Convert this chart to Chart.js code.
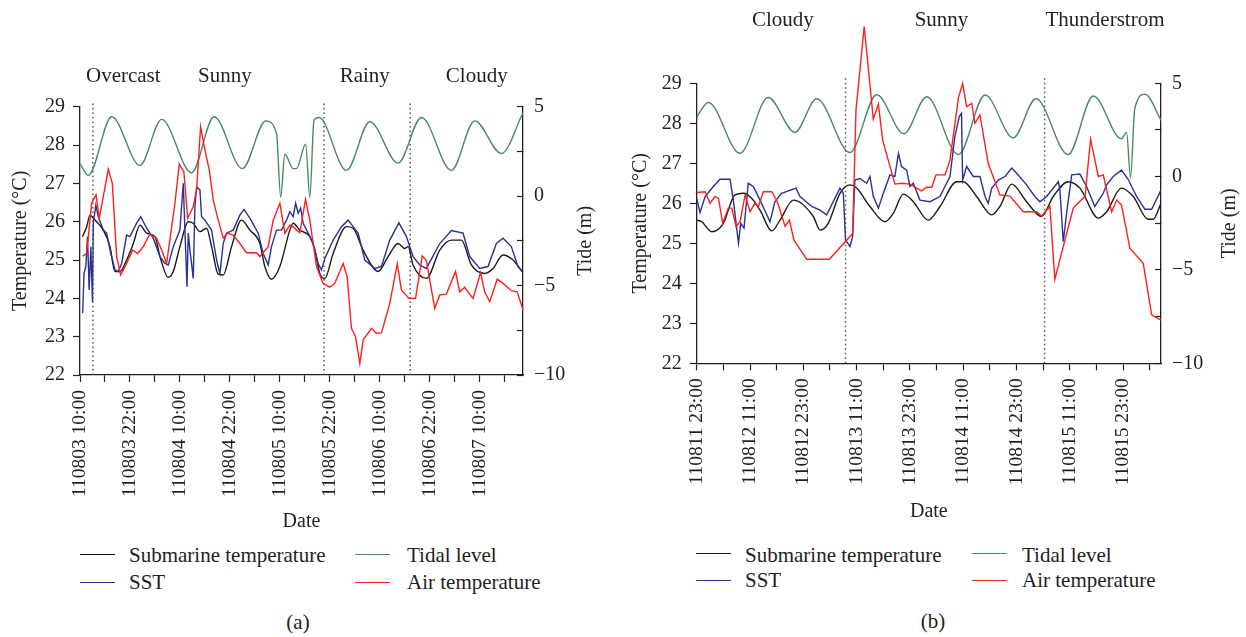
<!DOCTYPE html>
<html><head><meta charset="utf-8">
<script src="https://cdn.jsdelivr.net/npm/chart.js@4.4.1/dist/chart.umd.min.js"></script>
<style>
html,body{margin:0;padding:0;background:#fff;}
body{width:1246px;height:637px;position:relative;overflow:hidden;font-family:"Liberation Serif","Times New Roman",serif;color:#231f20;}
canvas{position:absolute;top:0;}
#cA{left:0;} #cB{left:623px;}
.sw{position:absolute;height:0;border-top:1.5px solid;}
.lt{position:absolute;font-size:21px;line-height:24px;white-space:nowrap;}
.cap{position:absolute;font-size:21px;line-height:24px;width:60px;text-align:center;}
</style></head>
<body>
<canvas id="cA" width="623" height="540"></canvas>
<canvas id="cB" width="623" height="530"></canvas>

<div class="sw" style="left:80px;width:35px;top:554px;border-color:#1a1a1a"></div>
<div class="lt" style="left:129px;top:543px">Submarine temperature</div>
<div class="sw" style="left:355px;width:35px;top:554px;border-color:#4a8a66"></div>
<div class="lt" style="left:407px;top:543px">Tidal level</div>
<div class="sw" style="left:80px;width:35px;top:582px;border-color:#2b3192"></div>
<div class="lt" style="left:129px;top:570px">SST</div>
<div class="sw" style="left:355px;width:35px;top:582px;border-color:#ff1f1f"></div>
<div class="lt" style="left:407px;top:570px">Air temperature</div>
<div class="cap" style="left:268px;top:610px">(a)</div>

<div class="sw" style="left:696px;width:35px;top:553px;border-color:#1a1a1a"></div>
<div class="lt" style="left:745px;top:543px">Submarine temperature</div>
<div class="sw" style="left:972px;width:35px;top:553px;border-color:#4a8a66"></div>
<div class="lt" style="left:1022px;top:543px">Tidal level</div>
<div class="sw" style="left:696px;width:35px;top:580px;border-color:#2b3192"></div>
<div class="lt" style="left:745px;top:568px">SST</div>
<div class="sw" style="left:972px;width:35px;top:580px;border-color:#ff1f1f"></div>
<div class="lt" style="left:1022px;top:568px">Air temperature</div>
<div class="cap" style="left:903px;top:609px">(b)</div>

<script>
// ---------- Panel (a): hours since 110803 10:00 ----------
const ticksA = ["110803 10:00","110803 22:00","110804 10:00","110804 22:00","110805 10:00","110805 22:00","110806 10:00","110806 22:00","110807 10:00"];
const weatherA = ["Overcast","Sunny","Rainy","Cloudy"];
const weatherA_h = [10.4,34.8,68.4,95.3];
const breaksA = [3.1,58.6,79.3];

const subA_h = [0.6,1.6,2.4,3.2,5.6,7.2,8.4,9.6,11.2,12.8,14.4,16,18,19.2,21.2,22.4,24,26,27.2,28.8,30.4,31.6,33.2,34.4,36.4,38.8,40.8,43.2,44.4,46,48,50.4,51.2,52.8,55.2,56.4,57.6,58.8,60.8,64,65.6,68,71.6,74,76.4,78,78.8,80,83.2,86.4,89.2,91.6,94,97.2,99.2,101.6,104,106.2];
const subA_T = [25.61,25.87,26.17,26.09,25.78,25.35,24.70,24.70,25.0,25.43,25.91,25.70,25.61,25.09,24.55,24.70,25.35,26.0,25.96,25.74,25.83,25.35,24.63,24.61,25.35,26.04,25.78,25.43,24.83,24.50,24.83,25.78,25.96,25.78,25.61,25.26,24.65,24.52,25.17,25.87,25.83,25.26,24.70,25.09,25.43,25.30,25.35,24.87,24.52,25.26,25.52,25.52,24.87,24.65,24.78,25.13,25.0,24.70];

const sstA_h = [0.64,0.96,1.4,1.8,2.2,2.6,3.0,3.2,3.8,4.4,5.6,6.4,7.4,8.4,9.2,10,11.2,12,13.6,14.6,16,17.6,19.2,20.4,21.2,22.4,24,24.8,25.2,25.7,26,26.4,26.8,27.2,27.6,28,28.8,29.2,30,31.6,32.8,33.6,34.4,35.2,36.8,38.4,39.4,40.8,42.8,44,45.2,46,47.2,48.4,49.6,50.4,51.2,51.8,52.4,53,53.6,54.8,56,57.2,58,58.8,60.8,62.8,64.4,65.6,66.8,68.4,70.8,72.4,74.4,76.6,78.4,80,81.6,83.2,86.4,89.2,92,93.6,96,98,100,101.6,103.6,105.2,106.2];
const sstA_T = [23.61,24.65,24.83,25.61,24.22,25.35,23.91,25.96,26.43,26.13,25.78,25.70,25.17,24.74,24.70,24.91,25.65,25.61,25.96,26.13,25.83,25.57,25.09,24.91,24.87,25.35,25.78,27.0,25.78,24.30,25.70,25.26,24.91,24.52,26.39,26.91,26.83,26.13,26.04,25.78,25.0,24.65,25.43,25.70,25.78,26.17,26.32,26.09,25.70,25.17,24.87,25.35,25.78,25.78,26.04,26.26,26.13,26.48,26.22,26.35,25.96,25.70,25.43,24.91,24.74,25.04,25.52,25.87,26.04,25.87,25.70,25.0,24.78,24.83,25.52,25.97,25.61,25.09,24.87,24.78,25.43,25.77,25.70,25.09,24.78,24.83,25.43,25.57,25.35,24.83,24.70];

const airA_h = [0.64,1.6,2.8,3.84,4.64,6.8,7.76,8.8,9.76,11.2,12.64,13.84,15.2,16.8,18.4,19.6,20.8,22.8,23.84,24.96,25.84,27.2,28,28.96,30,31.04,32,33.2,34.4,35.44,36.8,38.4,40,42.4,43.2,45.2,46.4,48,49.2,50.4,51.2,52.8,54.16,55.2,56.8,58.4,60,61.2,63.2,64.16,65.2,66.16,67.2,68,70,71.2,72.4,74.4,76.2,77.2,79,80.6,82.2,83.2,85.2,86.4,88,90.2,91.2,92.4,94.4,96.2,97.2,98.4,100.2,101.6,103.6,105,106.4];
const airA_T = [25.10,25.17,26.48,26.70,26.09,27.37,27.0,25.09,24.61,24.91,25.26,25.17,25.35,25.68,25.57,25.26,24.91,26.48,27.50,27.30,26.09,26.39,26.83,28.48,27.87,27.35,26.57,26.04,25.57,25.70,25.65,25.43,25.19,25.19,25.09,25.35,26.04,26.48,25.70,25.91,25.87,25.71,26.58,26.04,24.83,24.39,24.29,24.39,24.91,24.57,23.22,23.0,22.30,22.91,23.22,23.09,23.10,23.87,24.90,24.22,24.0,24.0,25.11,24.98,23.74,24.09,24.11,24.70,24.17,24.29,24.0,24.67,24.17,23.91,24.50,24.39,24.20,24.17,23.70];

const tideA_h = [0,2,7.6,14.4,19.6,26.8,32.2,39,44.6,47.2,48.2,49.2,51.2,52,54.2,55.2,56.2,57.4,64,69.6,76.4,82,89.2,94.8,101.2,106.4];
const tideA_m = [1.82,1.16,4.44,1.72,4.29,1.31,4.44,1.54,4.2,3.5,-0.06,2.34,1.54,1.54,2.9,-0.06,4.25,4.4,1.44,4.16,1.85,4.4,1.44,4.21,2.38,4.66];

// ---------- Panel (b): hours since 110811 23:00 ----------
const ticksB = ["110811 23:00","110812 11:00","110812 23:00","110813 11:00","110813 23:00","110814 11:00","110814 23:00","110815 11:00","110815 23:00"];
const weatherB = ["Cloudy","Sunny","Thunderstrom"];
const weatherB_h = [19.4,55.1,91.9];
const breaksB = [33.5,78.3];

const subB_h = [0,1.1,3.4,6,8.6,10.5,12.4,14.25,16.9,18.75,21.75,26.25,27.75,29.6,32.25,34.5,36,39,42.4,44.25,46.5,48.75,52.1,54.75,58.5,60,63,66.4,68.25,70.9,74.25,77.6,80.25,83.6,86.25,90.4,92.25,95.6,98.25,101.6,102.75,104.5];
const subB_T = [25.58,25.54,25.29,25.5,26.21,26.25,26.12,25.83,25.31,25.58,26.08,25.67,25.33,25.5,26.25,26.46,26.38,25.92,25.54,25.75,26.23,26.04,25.58,25.92,26.54,26.54,26.17,25.71,25.92,26.48,26.04,25.67,26.17,26.54,26.38,25.63,25.79,26.38,26.17,25.6,25.6,26.0];

const sstB_h = [0,0.75,1.9,3.75,5.25,7.5,8.25,9.4,9.9,10.65,11.6,12.75,14.25,16.5,17.6,19.1,22.35,23.25,25.9,27.75,29.25,32.25,33,33.5,34.5,35.1,35.6,36.75,38.25,39,39.75,40.9,42,43.5,44.6,45.4,46.1,47.25,48,48.75,50.25,52.5,54.75,57,58.1,59.1,59.6,59.85,60.75,62.25,63.75,64.9,65.6,66.4,67.9,69.4,70.9,72,74.25,76.1,77.25,78.75,81.4,81.75,82.5,83.25,84.4,86.25,87.75,89.6,91.5,92.25,93.75,95.6,97.1,99,100.9,102.4,104.5];
const sstB_T = [26.12,25.77,26.17,26.42,26.6,26.6,26.08,25.0,25.5,25.38,26.5,26.42,26.08,25.54,26.04,26.25,26.38,26.17,25.92,25.83,25.71,26.38,26.25,25.08,24.92,25.17,26.58,26.62,26.5,26.67,26.17,25.88,26.25,26.71,26.67,27.25,26.92,26.83,26.42,26.5,26.08,26.04,26.17,26.67,27.67,28.17,28.25,26.58,26.92,26.67,26.67,26.17,26.0,26.38,26.58,26.67,26.88,26.75,26.46,26.17,26.04,26.17,26.54,26.33,25.04,25.75,26.71,26.73,26.42,25.92,26.25,26.46,26.67,26.83,26.6,26.17,25.85,25.85,26.33];

const airB_h = [0,1.9,3,4.1,4.9,5.85,7.1,7.9,8.85,9.75,10.9,12,13.1,13.9,15,16.9,18.15,19.9,20.85,21.9,24.75,29.85,34.5,35.1,35.85,37.7,39.75,40.9,41.85,44.6,46.1,48,50.6,51.75,52.9,53.85,55.9,57,58.9,59.85,60.75,61.9,62.6,63.75,65.6,68.25,70.5,73.5,76.5,77.6,79.5,80.6,82.1,84.75,87.4,88.65,90.4,91.5,93.4,94.5,95.6,97.5,100.5,102.4,104.5];
const airB_T = [26.27,26.29,26.0,26.17,26.12,25.5,25.88,25.88,25.42,25.54,26.21,25.79,26.0,25.92,26.29,26.29,26.04,25.42,25.58,25.08,24.6,24.6,25.17,25.25,28.33,30.42,28.1,28.48,27.58,26.48,26.5,26.48,26.31,26.4,26.4,26.71,26.71,27.08,28.63,29.0,28.42,28.5,28.0,28.21,27.0,26.21,26.18,25.79,25.79,25.68,25.92,24.1,24.75,25.88,26.18,27.6,26.67,26.71,25.79,26.08,25.96,24.88,24.5,23.21,23.08];

const tideB_h = [0,2.6,9.75,16.1,22.1,27,34.5,40.5,46.65,51.75,58.9,64.9,71.25,76.35,83.6,89.25,95.6,96.75,97.65,98.6,100.9,104.5];
const tideB_m = [3.2,3.97,1.25,4.24,2.37,4.17,1.29,4.39,2.3,4.28,1.18,4.37,2.08,4.17,1.18,4.32,2.03,2.37,-0.05,3.65,4.42,3.02];

// ---------- drawing ----------
const FONT = '"Liberation Serif","Times New Roman",serif';
const TEXT = '#231f20';
const C_BLACK = '#1a1a1a', C_BLUE = '#2b3192', C_GREEN = '#4a8a66', C_RED = '#ff1f1f';
Chart.defaults.font.family = FONT;
Chart.defaults.color = TEXT;

const zip = (xs, ys) => xs.map((x, i) => ({x, y: ys[i]}));

const overlay = {
  id: 'overlay',
  afterDraw(chart, args, o) {
    const {ctx, chartArea, scales} = chart;
    ctx.save();
    ctx.fillStyle = TEXT;
    ctx.font = '21px ' + FONT;
    ctx.textAlign = 'center';
    ctx.textBaseline = 'alphabetic';
    o.names.forEach((n, i) => ctx.fillText(n, scales.x.getPixelForValue(o.pos[i]), o.baseY));
    ctx.translate(o.tideX, (chartArea.top + chartArea.bottom) / 2);
    ctx.rotate(-Math.PI / 2);
    ctx.textBaseline = 'middle';
    ctx.font = '20px ' + FONT;
    ctx.fillText('Tide (m)', 0, 0);
    ctx.restore();
  }
};

function line(label, data, color, axis, order, smooth, clip) {
  return {label, data, borderColor: color, borderWidth: 1.4, pointRadius: 0, yAxisID: axis,
    order, fill: false, tension: 0, cubicInterpolationMode: smooth ? 'monotone' : 'default',
    clip: clip ? false : undefined};
}

function build(id, P) {
  const datasets = [];
  P.breaks.forEach(b => datasets.push({data: [{x: b, y: 22}, {x: b, y: P.breakTop}], borderColor: '#555',
    borderWidth: 1.5, borderDash: [1.5, 3], pointRadius: 0, yAxisID: 'y', order: 10, clip: false}));
  datasets.push(line('Tidal level', zip(P.tideH, P.tideV), C_GREEN, 'y2', 5, true));
  datasets.push(line('Submarine temperature', zip(P.subH, P.subT), C_BLACK, 'y', 4, true));
  datasets.push(line('SST', zip(P.sstH, P.sstT), C_BLUE, 'y', 3, false));
  datasets.push(line('Air temperature', zip(P.airH, P.airT), C_RED, 'y', 2, false, true));

  const axisGrid = (tl) => ({drawOnChartArea: false, drawTicks: true, tickLength: tl, tickColor: TEXT, tickWidth: 1.2});
  const axisBorder = {display: true, color: TEXT, width: 1.3};

  new Chart(document.getElementById(id), {
    type: 'line',
    data: {datasets},
    options: {
      responsive: false, animation: false, devicePixelRatio: 1,
      layout: {padding: {top: P.top, left: 0, right: 0, bottom: 0}},
      plugins: {legend: {display: false}, tooltip: {enabled: false},
        overlay: {names: P.wNames, pos: P.wPos, baseY: P.wY, tideX: P.tideX}},
      scales: {
        x: {type: 'linear', position: 'bottom', min: 0, max: P.xMax,
          afterFit: s => { s.height = P.bottomH; },
          grid: axisGrid(7), border: axisBorder,
          ticks: {stepSize: 6, maxTicksLimit: 100, includeBounds: false, autoSkip: false,
            minRotation: 90, maxRotation: 90, padding: 8, color: TEXT,
            font: {family: FONT, size: 19.5},
            callback: v => { const r = Math.round(v); return r % 12 === 0 ? P.labels[r / 12] : ''; }},
          title: {display: true, text: 'Date', color: TEXT, font: {family: FONT, size: 20},
            padding: {top: 0, bottom: P.datePad}}
        },
        y: {type: 'linear', position: 'left', min: 22, max: 29,
          afterFit: s => { s.width = P.leftW; },
          grid: axisGrid(7), border: axisBorder,
          ticks: {stepSize: 0.5, maxTicksLimit: 100, padding: 8, color: TEXT, font: {family: FONT, size: 20},
            callback: v => Number.isInteger(v) ? String(v) : ''},
          title: {display: true, text: 'Temperature (°C)', color: TEXT, font: {family: FONT, size: 20},
            padding: {top: P.tempPad, bottom: 0}}
        },
        y2: {type: 'linear', position: 'right', min: -10, max: 5,
          afterFit: s => { s.width = P.rightW; },
          grid: axisGrid(-6), border: axisBorder,
          ticks: {stepSize: 2.5, maxTicksLimit: 100, padding: 17, color: TEXT, font: {family: FONT, size: 20},
            callback: v => (Math.abs(v % 5) < 1e-9) ? (v < 0 ? '\u2212' + Math.abs(v) : String(v)) : ''}
        }
      }
    },
    plugins: [overlay]
  });
}

build('cA', {
  labels: ticksA, xMax: 106.4, top: 106.7, leftW: 80, rightW: 100, bottomH: 165,
  datePad: 6, tempPad: 9, tideX: 586, breakTop: 29.12, breaks: breaksA,
  wNames: weatherA, wPos: weatherA_h, wY: 82,
  tideH: tideA_h, tideV: tideA_m, subH: subA_h, subT: subA_T, sstH: sstA_h, sstT: sstA_T, airH: airA_h, airT: airA_T
});
build('cB', {
  labels: ticksB, xMax: 104.5, top: 83.3, leftW: 73.7, rightW: 85, bottomH: 166.7,
  datePad: 6, tempPad: 6, tideX: 607, breakTop: 29.17, breaks: breaksB,
  wNames: weatherB, wPos: weatherB_h, wY: 26,
  tideH: tideB_h, tideV: tideB_m, subH: subB_h, subT: subB_T, sstH: sstB_h, sstT: sstB_T, airH: airB_h, airT: airB_T
});
</script>
</body></html>
